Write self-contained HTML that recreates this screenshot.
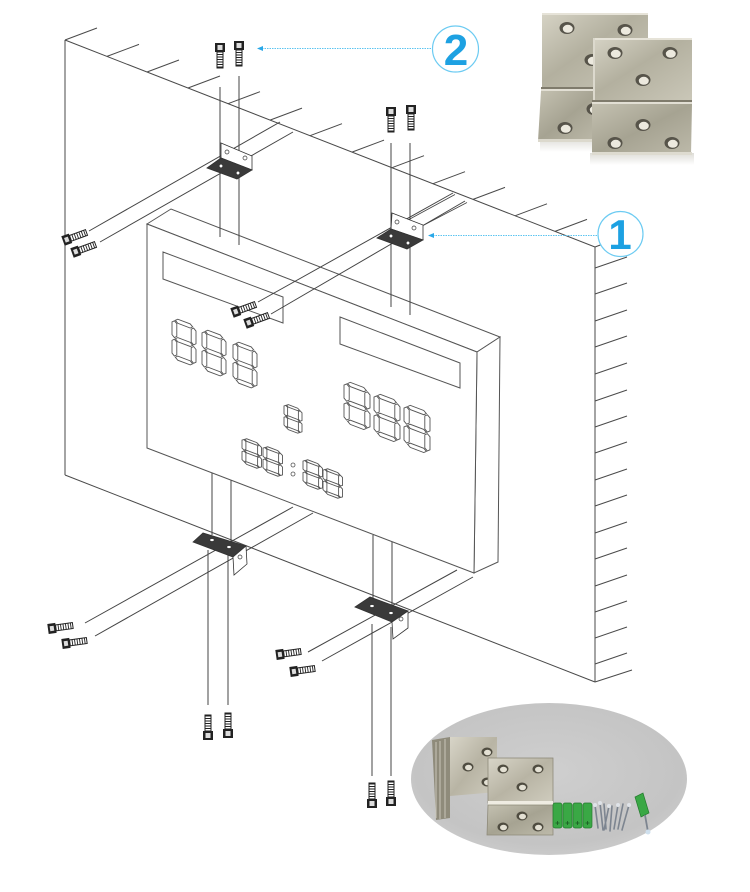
<!DOCTYPE html>
<html><head><meta charset="utf-8">
<style>
html,body{margin:0;padding:0;background:#fff;}
svg{display:block;}
</style></head><body>
<svg width="750" height="892" viewBox="0 0 750 892" xmlns="http://www.w3.org/2000/svg">
<defs>
 <g id="d8" fill="none" stroke="#555" stroke-width="0.9">
  <polygon vector-effect="non-scaling-stroke" points="2.8,2 4.8,0 15.2,0 17.2,2 15.2,4 4.8,4"/>
  <polygon vector-effect="non-scaling-stroke" points="2.8,20 4.8,18 15.2,18 17.2,20 15.2,22 4.8,22"/>
  <polygon vector-effect="non-scaling-stroke" points="2.8,38 4.8,36 15.2,36 17.2,38 15.2,40 4.8,40"/>
  <polygon vector-effect="non-scaling-stroke" points="2,2.8 4,4.8 4,17.2 2,19.2 0,17.2 0,4.8"/>
  <polygon vector-effect="non-scaling-stroke" points="18,2.8 20,4.8 20,17.2 18,19.2 16,17.2 16,4.8"/>
  <polygon vector-effect="non-scaling-stroke" points="2,20.8 4,22.8 4,35.2 2,37.2 0,35.2 0,22.8"/>
  <polygon vector-effect="non-scaling-stroke" points="18,20.8 20,22.8 20,35.2 18,37.2 16,35.2 16,22.8"/>
 </g>
 <g id="sv">
  <rect x="-5" y="0" width="10" height="9" fill="#222"/>
  <rect x="-2.5" y="2" width="5" height="5" fill="#ddd"/>
  <rect x="-3" y="9" width="6" height="16" fill="#fff" stroke="#222" stroke-width="1"/>
  <path d="M-3 11.5h6M-3 14h6M-3 16.5h6M-3 19h6M-3 21.5h6M-3 24h6" stroke="#222" stroke-width="0.9"/>
 </g>
 <g id="sh">
  <rect x="0" y="-5" width="8" height="10" fill="#222"/>
  <rect x="2" y="-2.5" width="4" height="5" fill="#ddd"/>
  <rect x="8" y="-3" width="17" height="6" fill="#fff" stroke="#222" stroke-width="1"/>
  <path d="M10.5 -3v6M13 -3v6M15.5 -3v6M18 -3v6M20.5 -3v6M23 -3v6" stroke="#222" stroke-width="0.9"/>
 </g>
 <linearGradient id="metal" x1="0" y1="0" x2="1" y2="1">
  <stop offset="0" stop-color="#d6d3c5"/>
  <stop offset="0.45" stop-color="#b3b09f"/>
  <stop offset="1" stop-color="#cac7b8"/>
 </linearGradient>
 <linearGradient id="metal2" x1="0" y1="0" x2="1" y2="1">
  <stop offset="0" stop-color="#c4c1b1"/>
  <stop offset="0.5" stop-color="#a6a392"/>
  <stop offset="1" stop-color="#bdbaaa"/>
 </linearGradient>
 <linearGradient id="metal3" x1="0" y1="0" x2="1" y2="1">
  <stop offset="0" stop-color="#d8d5c8"/>
  <stop offset="0.5" stop-color="#b8b4a4"/>
  <stop offset="1" stop-color="#cfccbe"/>
 </linearGradient>
 <radialGradient id="ell" cx="0.5" cy="0.45" r="0.6">
  <stop offset="0" stop-color="#cfcfcf"/>
  <stop offset="0.8" stop-color="#c4c4c4"/>
  <stop offset="1" stop-color="#cdcdcd"/>
 </radialGradient>
 <linearGradient id="refl" x1="0" y1="0" x2="0" y2="1">
  <stop offset="0" stop-color="#c8c6bd"/>
  <stop offset="1" stop-color="#ffffff"/>
 </linearGradient>
 <g id="hole">
  <ellipse rx="7.5" ry="6" fill="#57544a"/>
  <ellipse cx="0.8" cy="0.8" rx="5" ry="4" fill="#ece9de"/>
 </g>
 <g id="hs">
  <ellipse rx="5.5" ry="4.5" fill="#4f4c40"/>
  <ellipse cx="0.5" cy="0.5" rx="3.5" ry="2.8" fill="#e4e1d4"/>
 </g>
</defs>

<!-- WALL -->
<g stroke="#4a4a4a" stroke-width="1" fill="none">
 <path d="M65 40V475M65 40L595 247M595 247V682M65 475L595 682"/>
 <path d="M65 40L97 28M107 56.4L139 44.4M147 72L179 60M188 88L220 76M228 103.7L260 91.7M270 120.1L302 108.1M310 135.7L342 123.7M352 152.1L384 140.1M392 167.7L424 155.7M433 183.7L465 171.7M473 199.4L505 187.4M515 215.8L547 203.8M555 231.4L587 219.4M595 247L627 235"/>
 <path d="M595 268L627 257M595 294L627 283M595 321L627 310M595 347L627 336M595 374L627 363M595 401L627 390M595 427L627 416M595 453L627 442M595 480L627 469M595 506L627 495M595 533L627 522M595 559L627 548M595 586L627 575M595 612L627 601M595 638L627 627M595 664L627 653M595 682L632 670"/>
</g>

<!-- lines behind display -->
<g stroke="#444" stroke-width="1" fill="none">
 <path d="M89 231L280 122M100 242L293 132"/>
 <path d="M220 87V237M239 76V245"/>
 <path d="M85 623L293 507M95 636L313 513"/>
 <path d="M212 473V535M231 480V548M208 550V705M228 555V705"/>
 <path d="M308 652L457 570M322 661L473 577"/>
 <path d="M373 535V599M392 542V612M372 624V776M391 627V776"/>
</g>

<!-- DISPLAY -->
<g stroke="#555" stroke-width="1" fill="#fff">
 <polygon points="147,224 171,209 500,337 477,352"/>
 <polygon points="477,352 500,337 498,562 474,573"/>
 <polygon points="147,224 477,352 474,573 147,448"/>
 <polygon points="163,252 283,297 283,323 163,279" fill="none"/>
 <polygon points="340,317 460,363 460,388 340,344" fill="none"/>
</g>
<g>
 <use href="#d8" transform="translate(172,317) matrix(1,0.38,0,1,0,0) scale(1.2,1.025)"/>
 <use href="#d8" transform="translate(202,328) matrix(1,0.38,0,1,0,0) scale(1.2,1.025)"/>
 <use href="#d8" transform="translate(233,340) matrix(1,0.38,0,1,0,0) scale(1.2,1.025)"/>
 <use href="#d8" transform="translate(344,380) matrix(1,0.38,0,1,0,0) scale(1.3,1.05)"/>
 <use href="#d8" transform="translate(374,392) matrix(1,0.38,0,1,0,0) scale(1.3,1.05)"/>
 <use href="#d8" transform="translate(404,403) matrix(1,0.38,0,1,0,0) scale(1.3,1.05)"/>
 <use href="#d8" transform="translate(284,403) matrix(1,0.38,0,1,0,0) scale(0.9,0.625)"/>
 <use href="#d8" transform="translate(242,437) matrix(1,0.38,0,1,0,0) scale(0.975,0.64)"/>
 <use href="#d8" transform="translate(263,445) matrix(1,0.38,0,1,0,0) scale(0.975,0.64)"/>
 <use href="#d8" transform="translate(303,458) matrix(1,0.38,0,1,0,0) scale(0.975,0.64)"/>
 <use href="#d8" transform="translate(323,467) matrix(1,0.38,0,1,0,0) scale(0.975,0.64)"/>
 <circle cx="293" cy="465" r="2" fill="none" stroke="#555" stroke-width="0.8"/>
 <circle cx="293" cy="474" r="2" fill="none" stroke="#555" stroke-width="0.8"/>
</g>

<!-- lines over display -->
<g stroke="#444" stroke-width="1" fill="none">
 <path d="M220 200V237M239 200V245"/>
 <path d="M391 143V307M410 143V315"/>
 <path d="M258 302L453 193M271 314L465 201"/>
 <path d="M408 220L455 194.5M424 225L467 202.5" stroke-width="0.8"/>
</g>

<!-- BRACKETS -->
<g stroke="#333" stroke-width="0.8">
 <polygon points="221,143 252,156 252,170 221,158" fill="#fff"/>
 <polygon points="207,168 221,158 252,170 237,179" fill="#3a3a3a"/>
 <polygon points="392,213 423,225 423,240 391,229" fill="#fff"/>
 <polygon points="377,238 391,229 423,240 407,249" fill="#3a3a3a"/>
 <polygon points="193,542 203,533 246,546 233,557" fill="#3a3a3a"/>
 <polygon points="233,557 246,546 247,564 234,575" fill="#fff"/>
 <polygon points="355,607 370,597 408,611 392,622" fill="#3a3a3a"/>
 <polygon points="392,622 408,611 408,628 393,639" fill="#fff"/>
</g>
<g fill="#fff" stroke="#333" stroke-width="0.7">
 <circle cx="227" cy="152" r="2"/><circle cx="245" cy="158" r="2"/>
 <circle cx="221" cy="166" r="1.8"/><circle cx="238" cy="173" r="1.8"/>
 <circle cx="397" cy="222" r="2"/><circle cx="414" cy="228" r="2"/>
 <circle cx="391" cy="236" r="1.8"/><circle cx="408" cy="243" r="1.8"/>
 <ellipse cx="212" cy="540" rx="2.2" ry="1.5"/><ellipse cx="229" cy="547" rx="2.2" ry="1.5"/>
 <circle cx="240" cy="557" r="2"/>
 <ellipse cx="372" cy="606" rx="2.2" ry="1.5"/><ellipse cx="391" cy="613" rx="2.2" ry="1.5"/>
 <circle cx="401" cy="619" r="2"/>
</g>

<!-- SCREWS -->
<use href="#sv" transform="translate(220,43)"/>
<use href="#sv" transform="translate(239,41)"/>
<use href="#sv" transform="translate(391,107)"/>
<use href="#sv" transform="translate(411,105)"/>
<use href="#sv" transform="translate(208,740) scale(1,-1)"/>
<use href="#sv" transform="translate(228,738) scale(1,-1)"/>
<use href="#sv" transform="translate(372,808) scale(1,-1)"/>
<use href="#sv" transform="translate(391,806) scale(1,-1)"/>
<use href="#sh" transform="translate(63,241) rotate(-20)"/>
<use href="#sh" transform="translate(72,253) rotate(-20)"/>
<use href="#sh" transform="translate(232,313) rotate(-20)"/>
<use href="#sh" transform="translate(245,324) rotate(-20)"/>
<use href="#sh" transform="translate(48,629) rotate(-8)"/>
<use href="#sh" transform="translate(62,644) rotate(-8)"/>
<use href="#sh" transform="translate(276,655) rotate(-8)"/>
<use href="#sh" transform="translate(290,672) rotate(-8)"/>

<!-- CALLOUTS -->
<g>
 <line x1="262" y1="48.5" x2="432" y2="48.5" stroke="#5cc4f0" stroke-width="1" stroke-dasharray="1.5,1"/>
 <polygon points="257,48.5 263,46 263,51" fill="#2aa8e8"/>
 <circle cx="455.5" cy="49" r="23" fill="#fff" stroke="#6ccbf2" stroke-width="1.2"/>
 <text x="456" y="65" text-anchor="middle" font-family="Liberation Sans, Arial, sans-serif" font-weight="bold" font-size="44" fill="#1da1e2">2</text>
 <line x1="433" y1="235.5" x2="598" y2="235.5" stroke="#5cc4f0" stroke-width="1" stroke-dasharray="1.5,1"/>
 <polygon points="428,235.5 434,233 434,238" fill="#2aa8e8"/>
 <circle cx="620.5" cy="234" r="22.5" fill="#fff" stroke="#6ccbf2" stroke-width="1.2"/>
 <text x="620" y="249" text-anchor="middle" font-family="Liberation Sans, Arial, sans-serif" font-weight="bold" font-size="42" fill="#1da1e2">1</text>
</g>

<!-- TOP RIGHT PHOTO -->
<g>
 <rect x="540" y="138" width="60" height="14" fill="url(#refl)" opacity="0.6"/>
 <rect x="590" y="153" width="104" height="12" fill="url(#refl)" opacity="0.6"/>
 <rect x="542" y="13" width="106" height="76" fill="url(#metal)"/>
 <rect x="542" y="13" width="106" height="2" fill="#e6e3d8"/>
 <rect x="541" y="87" width="60" height="2" fill="#7f7b6c"/>
 <rect x="541" y="89" width="60" height="2" fill="#e2dfd4"/>
 <polygon points="541,91 600,91 600,141 538,141" fill="url(#metal2)"/>
 <rect x="538" y="139" width="62" height="3" fill="#dcd9cd"/>
 <use href="#hole" transform="translate(567,28)"/>
 <use href="#hole" transform="translate(625,30)"/>
 <use href="#hole" transform="translate(592,60)"/>
 <use href="#hole" transform="translate(565,128)"/>
 <use href="#hole" transform="translate(594,109)"/>
 <rect x="593" y="38" width="99" height="63" fill="url(#metal)"/>
 <rect x="593" y="38" width="99" height="2" fill="#e6e3d8"/>
 <rect x="593" y="38" width="2" height="63" fill="#dcd9cd"/>
 <rect x="592" y="100" width="100" height="2" fill="#7f7b6c"/>
 <rect x="592" y="102" width="100" height="2" fill="#e2dfd4"/>
 <polygon points="592,104 692,104 691,155 592,155" fill="url(#metal2)"/>
 <rect x="592" y="152" width="100" height="3" fill="#dedbd0"/>
 <use href="#hole" transform="translate(615,53)"/>
 <use href="#hole" transform="translate(670,53)"/>
 <use href="#hole" transform="translate(643,80)"/>
 <use href="#hole" transform="translate(643,125)"/>
 <use href="#hole" transform="translate(615,143)"/>
 <use href="#hole" transform="translate(672,143)"/>
</g>

<!-- BOTTOM PHOTO -->
<g>
 <ellipse cx="549" cy="779" rx="138" ry="76" fill="url(#ell)"/>
 <polygon points="432,740 450,737 450,818 436,820" fill="#8f8b7b"/>
 <path d="M436 742V818M440 741V819M445 739V818" stroke="#c9c6b8" stroke-width="1"/>
 <polygon points="450,737 497,737 497,792 450,796" fill="url(#metal3)"/>
 <use href="#hs" transform="translate(487,752)"/>
 <use href="#hs" transform="translate(468,767)"/>
 <use href="#hs" transform="translate(487,782)"/>
 <rect x="488" y="758" width="65" height="45" fill="url(#metal3)" stroke="#8e8a7a" stroke-width="0.8"/>
 <rect x="488" y="801" width="65" height="4" fill="#efece2"/>
 <polygon points="488,805 553,805 553,835 487,835" fill="url(#metal2)" stroke="#8e8a7a" stroke-width="0.8"/>
 <use href="#hs" transform="translate(503,769)"/>
 <use href="#hs" transform="translate(538,769)"/>
 <use href="#hs" transform="translate(522,787)"/>
 <use href="#hs" transform="translate(522,816)"/>
 <use href="#hs" transform="translate(503,827)"/>
 <use href="#hs" transform="translate(538,827)"/>
 <g fill="#3aa845" stroke="#257a2e" stroke-width="0.7">
  <rect x="553" y="803" width="9" height="25" rx="2"/>
  <rect x="563" y="803" width="9" height="25" rx="2"/>
  <rect x="573" y="803" width="9" height="25" rx="2"/>
  <rect x="583" y="803" width="9" height="25" rx="2"/>
 </g>
 <g stroke="#1c5a22" stroke-width="0.8">
  <path d="M555.5 823h4M557.5 821v4M565.5 823h4M567.5 821v4M575.5 823h4M577.5 821v4M585.5 823h4M587.5 821v4"/>
 </g>
 <g stroke="#7d8590" stroke-width="1.6" stroke-linecap="round">
  <path d="M595 805L598 828M600 803L603 830M604 804L606 829M609 806L604 830M612 806L610 831M618 805L614 829M623 804L618 829M629 805L622 830"/>
 </g>
 <g fill="#dfe3e8"><circle cx="595" cy="805" r="2"/><circle cx="600" cy="803" r="2"/><circle cx="609" cy="806" r="2"/><circle cx="618" cy="805" r="2"/><circle cx="629" cy="805" r="2"/></g>
 <polygon points="635,797 643,793 649,813 641,817" fill="#3aa845" stroke="#257a2e" stroke-width="0.7"/>
 <path d="M645 815L648 832" stroke="#7d8590" stroke-width="1.8"/>
 <circle cx="648" cy="832" r="2.5" fill="#cfe0ee"/>
</g>
</svg>
</body></html>
